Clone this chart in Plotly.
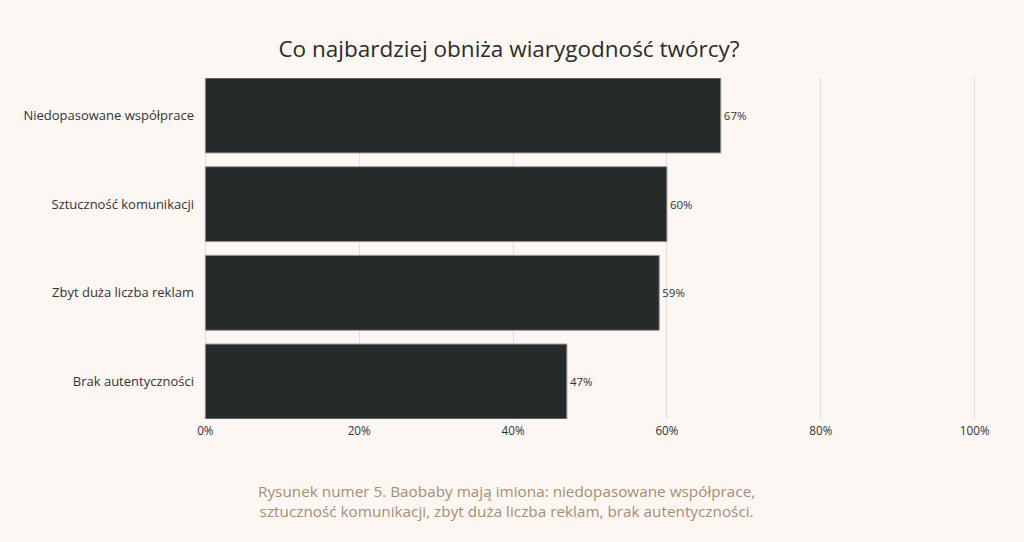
import plotly.graph_objects as go

# data
categories = ["Niedopasowane współprace",
              "Sztuczność komunikacji",
              "Zbyt duża liczba reklam",
              "Brak autentyczności"]
values = [67, 60, 59, 47]
x_ticks = [0, 20, 40, 60, 80, 100]
x_tick_labels = ["0%", "20%", "40%", "60%", "80%", "100%"]

title = "Co najbardziej obniża wiarygodność twórcy?"
caption = ("Rysunek numer 5. Baobaby mają imiona: niedopasowane współprace,<br>"
           "sztuczność komunikacji, zbyt duża liczba reklam, brak autentyczności.")

font = "Open Sans"
bg = "#fcf7f3"
bargap = 0.155

fig = go.Figure()

fig.add_trace(go.Bar(x=values,
                     y=categories,
                     orientation="h",
                     marker=dict(color="#252a2a",
                                 line=dict(color="#9a9a9a", width=1)),
                     text=[str(v) + "%" for v in values],
                     textposition="outside",
                     textfont=dict(family=font, size=11.5, color="#333333"),
                     cliponaxis=False,
                     hovertemplate="%{y}<br>%{x}%<extra></extra>"))

fig.update_layout(width=1024,
                  height=542,
                  paper_bgcolor=bg,
                  plot_bgcolor=bg,
                  margin=dict(l=203, r=47, t=78, b=123),
                  bargap=bargap,
                  showlegend=False,
                  font=dict(family=font, color="#333333"),
                  title=dict(text=title,
                             x=0.497,
                             xanchor="center",
                             y=0.91,
                             yanchor="middle",
                             font=dict(family=font, size=22.5, color="#2b2b2b")))

# pad the range a little so the 0% and 100% gridlines are still drawn
fig.update_xaxes(range=[-0.3, 100.3],
                 tickvals=x_ticks,
                 ticktext=x_tick_labels,
                 showgrid=True,
                 gridcolor="#e3dedb",
                 gridwidth=1,
                 zeroline=False,
                 showline=False,
                 ticks="",
                 ticklabelstandoff=3,
                 tickfont=dict(family=font, size=11.7, color="#333333"),
                 fixedrange=True)

# bars touch the top and bottom of the plot area, as in the reference
half = (1 - bargap) / 2
fig.update_yaxes(categoryorder="array",
                 categoryarray=categories[::-1],
                 range=[-half, len(categories) - 1 + half],
                 showgrid=False,
                 zeroline=False,
                 showline=False,
                 ticks="",
                 ticklabelstandoff=8,
                 tickfont=dict(family=font, size=13, color="#333333"),
                 fixedrange=True)

fig.add_annotation(text=caption,
                   xref="paper", yref="paper",
                   x=(506 - 203) / 774, y=-0.176,
                   xanchor="center", yanchor="top",
                   showarrow=False,
                   align="center",
                   font=dict(family=font, size=15.3, color="#a88d72"))

# drop the default page margin so the figure sits at the window's corner
fig.write_html("out.html",
               config={"displayModeBar": False},
               post_script="document.body.style.margin='0';"
                           "document.body.style.background='" + bg + "';")
